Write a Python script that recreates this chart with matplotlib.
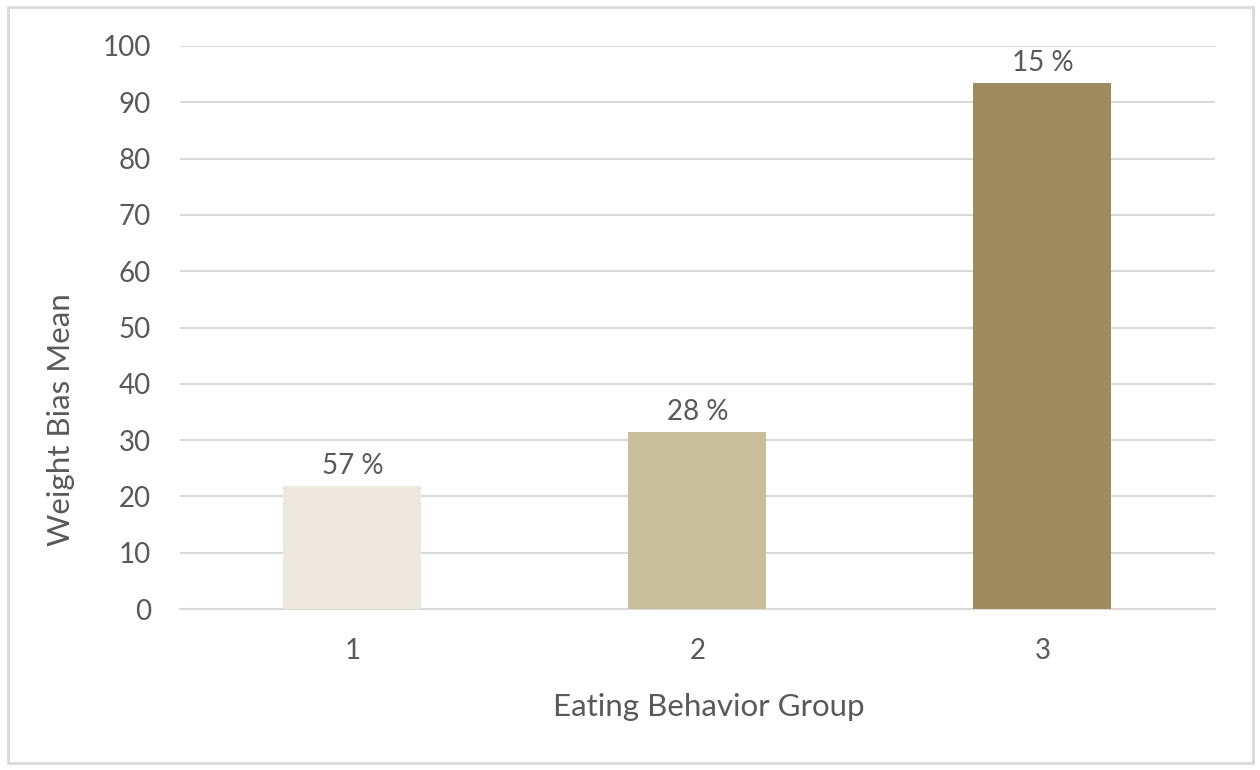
import matplotlib.pyplot as plt
from matplotlib.patches import Rectangle

groups = ['1', '2', '3']
bias_mean = [21.8, 31.4, 93.4]
pct_labels = ['57 %', '28 %', '15 %']
bar_colors = ['#EDE9DF', '#C9BE9C', '#9E8B5E']

plt.rcParams['font.family'] = ['Lato', 'DejaVu Sans']
text_color = '#595959'

fig = plt.figure(figsize=(12.6, 7.7), dpi=100)
ax = fig.add_axes([180 / 1260, 161 / 770, 1035 / 1260, 563 / 770])

x = list(range(len(groups)))
bars = ax.bar(x, bias_mean, width=0.4, color=bar_colors, zorder=3)
for rect, lab in zip(bars, pct_labels):
    ax.annotate(lab, (rect.get_x() + rect.get_width() / 2, rect.get_height()),
                xytext=(0, 5), textcoords='offset points', ha='center', va='bottom',
                fontsize=20, color=text_color)

ax.set_xlim(-0.5, 2.5)
ax.set_ylim(0, 100)
ax.set_yticks(range(0, 101, 10))
ax.set_xticks(x)
ax.set_xticklabels(groups)
ax.grid(axis='y', color='#D9D9D9', linewidth=1.5, zorder=0)
for s in ['top', 'right', 'left']:
    ax.spines[s].set_visible(False)
ax.spines['bottom'].set_color('#D9D9D9')
ax.spines['bottom'].set_linewidth(1.5)
ax.tick_params(length=0, labelsize=20, labelcolor=text_color)
ax.tick_params(axis='y', pad=21)
ax.tick_params(axis='x', pad=21)

ax.set_xlabel('Eating Behavior Group', fontsize=22.5, color=text_color)
ax.xaxis.set_label_coords(0.511, -0.149)
ax.set_ylabel('Weight Bias Mean', fontsize=22.5, color=text_color)
ax.yaxis.set_label_coords(-0.1015, 0.336)

fig.patches.append(Rectangle((8 / 1260, 7 / 770), 1245 / 1260, 756 / 770,
                             transform=fig.transFigure, fill=False,
                             edgecolor='#D9D9D9', linewidth=2))

fig.savefig('out.png', dpi=100)
